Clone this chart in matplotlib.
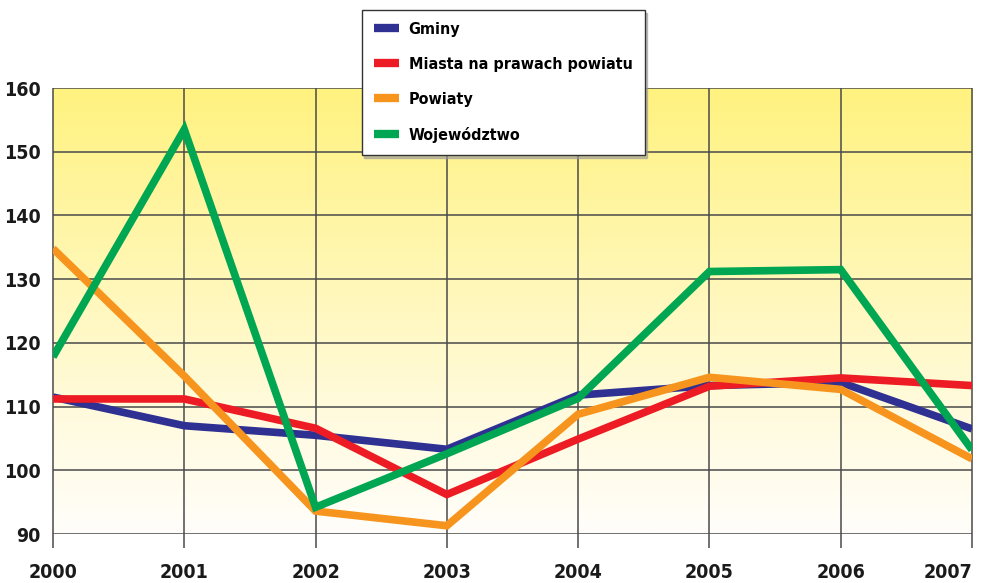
import matplotlib.pyplot as plt
import numpy as np
from matplotlib.colors import LinearSegmentedColormap
from matplotlib import font_manager

years = [2000, 2001, 2002, 2003, 2004, 2005, 2006, 2007]
gminy = [111.5, 107.0, 105.5, 103.3, 111.8, 113.3, 113.8, 106.5]
miasta = [111.2, 111.2, 106.6, 96.2, 104.9, 113.2, 114.5, 113.3]
powiaty = [134.8, 114.8, 93.6, 91.3, 108.8, 114.6, 112.7, 101.8]
wojewodztwo = [117.8, 153.5, 94.2, 102.6, 111.3, 131.2, 131.5, 103.2]

series = [
    ("Gminy", gminy, "#2e3192"),
    ("Miasta na prawach powiatu", miasta, "#ed1c24"),
    ("Powiaty", powiaty, "#f7941d"),
    ("Województwo", wojewodztwo, "#00a651"),
]

fp = font_manager.FontProperties(family="DejaVu Sans", weight="bold", stretch="condensed")

fig = plt.figure(figsize=(9.96, 5.83), dpi=100)
ax = fig.add_axes([0.0532, 0.084, 0.9227, 0.765])
ax.set_xlim(2000, 2007)
ax.set_ylim(90, 160)

# yellow-to-white gradient background
cmap = LinearSegmentedColormap.from_list("bg", [(0, "#fffefa"), (0.25, "#fffbe0"), (1, "#fff27f")])
grad = np.linspace(0, 1, 256).reshape(-1, 1)
ax.imshow(grad, aspect="auto", cmap=cmap, origin="lower",
          extent=[2000, 2007, 90, 160], zorder=0)

for v in range(90, 161, 10):
    ax.axhline(v, color="#4a4a4a", lw=1.1, zorder=1)
ax.vlines(years, 87.8, 160, color="#4a4a4a", lw=1.1, zorder=1, clip_on=False)

for name, vals, col in series:
    ax.plot(years, vals, color=col, lw=5.5, label=name, zorder=3,
            solid_joinstyle="miter", solid_capstyle="butt")

for s in ax.spines.values():
    s.set_visible(False)
ax.tick_params(length=0)
ax.tick_params(axis="y", pad=9)
ax.tick_params(axis="x", pad=21)
ax.set_xticks(years)
ax.set_yticks(range(90, 161, 10))
for lab in ax.get_xticklabels() + ax.get_yticklabels():
    lab.set_fontproperties(fp)
    lab.set_fontsize(14)
    lab.set_color("#1a1a1a")
ax.get_xticklabels()[-1].set_horizontalalignment("right")
ax.get_xticklabels()[-1].set_x(2007.17)

leg_fp = fp.copy()
leg_fp.set_size(11.5)
leg = fig.legend(loc="upper left", bbox_to_anchor=(0.363, 0.983),
                 prop=leg_fp,
                 frameon=True, fancybox=False, edgecolor="#333333",
                 handlelength=1.6, handletextpad=0.6, labelspacing=1.25,
                 borderpad=0.75, borderaxespad=0,
                 shadow={"color": "#999999", "alpha": 0.6})
leg.get_frame().set_linewidth(1.0)
for h in leg.get_lines():
    h.set_linewidth(6)

fig.savefig("out.png", dpi=100)
